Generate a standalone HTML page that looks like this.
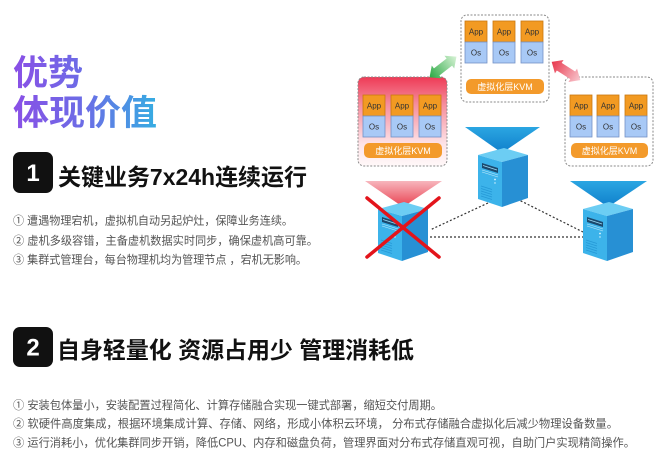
<!DOCTYPE html>
<html><head><meta charset="utf-8"><style>
html,body{margin:0;padding:0;background:#fff;}
svg{display:block;}
</style></head><body>
<svg width="662" height="466" viewBox="0 0 662 466" xmlns="http://www.w3.org/2000/svg" font-family="'Liberation Sans','Noto Sans CJK SC',sans-serif">
<defs>
 <linearGradient id="tg" gradientUnits="userSpaceOnUse" x1="13" y1="0" x2="160" y2="0">
  <stop offset="0" stop-color="#8a4fe6"/><stop offset="0.5" stop-color="#6a6ee6"/><stop offset="1" stop-color="#33b0e2"/>
 </linearGradient>
 <linearGradient id="redbox" x1="0" y1="0" x2="0" y2="1">
  <stop offset="0" stop-color="#ee3a56"/><stop offset="0.3" stop-color="#f58c9c"/><stop offset="0.75" stop-color="#fde3e7"/><stop offset="1" stop-color="#fff8f9"/>
 </linearGradient>
 <linearGradient id="blueTri" x1="0" y1="0" x2="0" y2="1">
  <stop offset="0" stop-color="#2ba6e2"/><stop offset="1" stop-color="#0f7fcb"/>
 </linearGradient>
 <linearGradient id="redTri" x1="0" y1="0" x2="0" y2="1">
  <stop offset="0" stop-color="#f7b6bd"/><stop offset="1" stop-color="#e9404f"/>
 </linearGradient>
 <linearGradient id="greenArr" x1="0" y1="0" x2="1" y2="0">
  <stop offset="0" stop-color="#2aa843"/><stop offset="1" stop-color="#d8f3d6"/>
 </linearGradient>
 <linearGradient id="redArr" x1="0" y1="0" x2="1" y2="0">
  <stop offset="0" stop-color="#e8364c"/><stop offset="1" stop-color="#f8c8cf"/>
 </linearGradient>
</defs>

<rect width="662" height="466" fill="#fff"/>

<!-- Title -->
<text x="13" y="85" font-size="35" font-weight="bold" fill="url(#tg)" textLength="70" lengthAdjust="spacingAndGlyphs">优势</text>
<text x="13" y="125" font-size="35" font-weight="bold" fill="url(#tg)" textLength="144" lengthAdjust="spacingAndGlyphs">体现价值</text>

<!-- Section 1 -->
<rect x="13" y="152" width="40" height="41" rx="7" fill="#111"/>
<text x="33" y="181" font-size="24" font-weight="bold" fill="#fff" text-anchor="middle">1</text>
<text x="58" y="185" font-size="23" font-weight="bold" fill="#111" textLength="249" lengthAdjust="spacingAndGlyphs">关键业务7x24h连续运行</text>

<g font-size="11.5" fill="#555">
 <text x="13" y="224.5" textLength="280" lengthAdjust="spacingAndGlyphs">① 遭遇物理宕机，虚拟机自动另起炉灶，保障业务连续。</text>
 <text x="13" y="244.5" textLength="305" lengthAdjust="spacingAndGlyphs">② 虚机多级容错，主备虚机数据实时同步，确保虚机高可靠。</text>
 <text x="13" y="263.5" textLength="294" lengthAdjust="spacingAndGlyphs">③ 集群式管理台，每台物理机均为管理节点 ，宕机无影响。</text>
</g>

<!-- Section 2 -->
<rect x="13" y="327" width="40" height="40" rx="7" fill="#111"/>
<text x="33" y="355.5" font-size="24" font-weight="bold" fill="#fff" text-anchor="middle">2</text>
<text x="57" y="358" font-size="23" font-weight="bold" fill="#111" textLength="357" lengthAdjust="spacingAndGlyphs">自身轻量化 资源占用少 管理消耗低</text>

<g font-size="11.5" fill="#555">
 <text x="13" y="409" textLength="429" lengthAdjust="spacingAndGlyphs">① 安装包体量小，安装配置过程简化、计算存储融合实现一键式部署，缩短交付周期。</text>
 <text x="13" y="427.5" textLength="605" lengthAdjust="spacingAndGlyphs">② 软硬件高度集成，根据环境集成计算、存储、网络，形成小体积云环境， 分布式存储融合虚拟化后减少物理设备数量。</text>
 <text x="13" y="446.5" textLength="622" lengthAdjust="spacingAndGlyphs">③ 运行消耗小，优化集群同步开销，降低CPU、内存和磁盘负荷，管理界面对分布式存储直观可视，自助门户实现精简操作。</text>
</g>

<!-- VM boxes -->
<rect x="461" y="15" width="88" height="87" rx="6" fill="#fff" stroke="#8a8a8a" stroke-width="1" stroke-dasharray="2,1.5"/>
<rect x="358" y="77" width="89" height="89" rx="6" fill="url(#redbox)" stroke="#8a8a8a" stroke-width="1" stroke-dasharray="2,1.5"/>
<rect x="565" y="77" width="88" height="89" rx="6" fill="#fff" stroke="#8a8a8a" stroke-width="1" stroke-dasharray="2,1.5"/>

<g font-size="8" fill="#333" text-anchor="middle">
 <g>
  <rect x="465" y="21" width="22" height="21" fill="#f29a22" stroke="#c9780f" stroke-width="0.8"/>
  <rect x="465" y="42" width="22" height="21" fill="#a8c9f6" stroke="#7492c6" stroke-width="0.8"/>
  <text x="476" y="34.5">App</text><text x="476" y="55.5">Os</text>
  <rect x="493" y="21" width="22" height="21" fill="#f29a22" stroke="#c9780f" stroke-width="0.8"/>
  <rect x="493" y="42" width="22" height="21" fill="#a8c9f6" stroke="#7492c6" stroke-width="0.8"/>
  <text x="504" y="34.5">App</text><text x="504" y="55.5">Os</text>
  <rect x="521" y="21" width="22" height="21" fill="#f29a22" stroke="#c9780f" stroke-width="0.8"/>
  <rect x="521" y="42" width="22" height="21" fill="#a8c9f6" stroke="#7492c6" stroke-width="0.8"/>
  <text x="532" y="34.5">App</text><text x="532" y="55.5">Os</text>
 </g>
 <g>
  <rect x="363" y="95" width="22" height="21" fill="#f29a22" stroke="#c9780f" stroke-width="0.8"/>
  <rect x="363" y="116" width="22" height="21" fill="#a8c9f6" stroke="#7492c6" stroke-width="0.8"/>
  <text x="374" y="108.5">App</text><text x="374" y="129.5">Os</text>
  <rect x="391" y="95" width="22" height="21" fill="#f29a22" stroke="#c9780f" stroke-width="0.8"/>
  <rect x="391" y="116" width="22" height="21" fill="#a8c9f6" stroke="#7492c6" stroke-width="0.8"/>
  <text x="402" y="108.5">App</text><text x="402" y="129.5">Os</text>
  <rect x="419" y="95" width="22" height="21" fill="#f29a22" stroke="#c9780f" stroke-width="0.8"/>
  <rect x="419" y="116" width="22" height="21" fill="#a8c9f6" stroke="#7492c6" stroke-width="0.8"/>
  <text x="430" y="108.5">App</text><text x="430" y="129.5">Os</text>
 </g>
 <g>
  <rect x="570" y="95" width="22" height="21" fill="#f29a22" stroke="#c9780f" stroke-width="0.8"/>
  <rect x="570" y="116" width="22" height="21" fill="#a8c9f6" stroke="#7492c6" stroke-width="0.8"/>
  <text x="581" y="108.5">App</text><text x="581" y="129.5">Os</text>
  <rect x="597" y="95" width="22" height="21" fill="#f29a22" stroke="#c9780f" stroke-width="0.8"/>
  <rect x="597" y="116" width="22" height="21" fill="#a8c9f6" stroke="#7492c6" stroke-width="0.8"/>
  <text x="608" y="108.5">App</text><text x="608" y="129.5">Os</text>
  <rect x="625" y="95" width="22" height="21" fill="#f29a22" stroke="#c9780f" stroke-width="0.8"/>
  <rect x="625" y="116" width="22" height="21" fill="#a8c9f6" stroke="#7492c6" stroke-width="0.8"/>
  <text x="636" y="108.5">App</text><text x="636" y="129.5">Os</text>
 </g>
</g>

<g font-size="9" fill="#fff" text-anchor="middle">
 <rect x="466" y="79" width="78" height="15" rx="5" fill="#f39a2b"/>
 <text x="505" y="89.8">虚拟化层KVM</text>
 <rect x="364" y="143" width="78" height="15" rx="5" fill="#f39a2b"/>
 <text x="403" y="153.8">虚拟化层KVM</text>
 <rect x="571" y="143" width="77" height="15" rx="5" fill="#f39a2b"/>
 <text x="609.5" y="153.8">虚拟化层KVM</text>
</g>

<!-- double arrows -->
<g transform="translate(443,67) rotate(-37.6)">
 <polygon points="-17,0 -8,-8 -8,-4.5 8,-4.5 8,-8 17,0 8,8 8,4.5 -8,4.5 -8,8" fill="url(#greenArr)"/>
</g>
<g transform="translate(566,71) rotate(32.7)">
 <polygon points="-17,0 -8,-8 -8,-4.5 8,-4.5 8,-8 17,0 8,8 8,4.5 -8,4.5 -8,8" fill="url(#redArr)"/>
</g>

<!-- dotted connectors -->
<g stroke="#333" stroke-width="1.2" stroke-dasharray="2,2" fill="none">
 <line x1="488" y1="203" x2="430" y2="230"/>
 <line x1="517" y1="199" x2="583" y2="232"/>
 <line x1="430" y1="237" x2="583" y2="237"/>
</g>

<!-- triangles -->
<polygon points="465,127 540,127 502,153" fill="url(#blueTri)"/>
<polygon points="365,181 442,181 403,207" fill="url(#redTri)"/>
<polygon points="570,181 647,181 608,207" fill="url(#blueTri)"/>

<!-- servers -->
<g>
 <polygon points="478,155 504,148 528,155 502,162" fill="#6ccdf3"/>
 <polygon points="478,155 502,162 502,207 478,199" fill="#3cb3ea"/>
 <polygon points="502,162 528,155 528,198 502,207" fill="#2790d4"/>
 <polygon points="482,163 498,168 498,173 482,168" fill="#1b4a6e"/>
 <line x1="483" y1="165.5" x2="497" y2="170" stroke="#9fdcf5" stroke-width="0.8"/>
 <line x1="482" y1="170" x2="498" y2="175" stroke="#bfe9fa" stroke-width="0.6"/>
 <line x1="482" y1="172" x2="498" y2="177" stroke="#bfe9fa" stroke-width="0.6"/>
 <circle cx="495" cy="179.5" r="0.9" fill="#e0f7ff"/>
 <circle cx="495" cy="183" r="0.7" fill="#e0f7ff"/>
 <g stroke="#2598d6" stroke-width="0.7">
  <line x1="481" y1="186" x2="492" y2="189.5"/>
  <line x1="481" y1="188.5" x2="492" y2="192"/>
  <line x1="481" y1="191" x2="492" y2="194.5"/>
  <line x1="481" y1="193.5" x2="492" y2="197"/>
  <line x1="481" y1="196" x2="492" y2="199.5"/>
 </g>
</g>
<g transform="translate(-100,54)">
 <polygon points="478,155 504,148 528,155 502,162" fill="#6ccdf3"/>
 <polygon points="478,155 502,162 502,207 478,199" fill="#3cb3ea"/>
 <polygon points="502,162 528,155 528,198 502,207" fill="#2790d4"/>
 <polygon points="482,163 498,168 498,173 482,168" fill="#1b4a6e"/>
 <line x1="483" y1="165.5" x2="497" y2="170" stroke="#9fdcf5" stroke-width="0.8"/>
 <line x1="482" y1="170" x2="498" y2="175" stroke="#bfe9fa" stroke-width="0.6"/>
 <line x1="482" y1="172" x2="498" y2="177" stroke="#bfe9fa" stroke-width="0.6"/>
 <circle cx="495" cy="179.5" r="0.9" fill="#e0f7ff"/>
 <circle cx="495" cy="183" r="0.7" fill="#e0f7ff"/>
 <g stroke="#2598d6" stroke-width="0.7">
  <line x1="481" y1="186" x2="492" y2="189.5"/>
  <line x1="481" y1="188.5" x2="492" y2="192"/>
  <line x1="481" y1="191" x2="492" y2="194.5"/>
  <line x1="481" y1="193.5" x2="492" y2="197"/>
  <line x1="481" y1="196" x2="492" y2="199.5"/>
 </g>
</g>
<g transform="translate(105,54)">
 <polygon points="478,155 504,148 528,155 502,162" fill="#6ccdf3"/>
 <polygon points="478,155 502,162 502,207 478,199" fill="#3cb3ea"/>
 <polygon points="502,162 528,155 528,198 502,207" fill="#2790d4"/>
 <polygon points="482,163 498,168 498,173 482,168" fill="#1b4a6e"/>
 <line x1="483" y1="165.5" x2="497" y2="170" stroke="#9fdcf5" stroke-width="0.8"/>
 <line x1="482" y1="170" x2="498" y2="175" stroke="#bfe9fa" stroke-width="0.6"/>
 <line x1="482" y1="172" x2="498" y2="177" stroke="#bfe9fa" stroke-width="0.6"/>
 <circle cx="495" cy="179.5" r="0.9" fill="#e0f7ff"/>
 <circle cx="495" cy="183" r="0.7" fill="#e0f7ff"/>
 <g stroke="#2598d6" stroke-width="0.7">
  <line x1="481" y1="186" x2="492" y2="189.5"/>
  <line x1="481" y1="188.5" x2="492" y2="192"/>
  <line x1="481" y1="191" x2="492" y2="194.5"/>
  <line x1="481" y1="193.5" x2="492" y2="197"/>
  <line x1="481" y1="196" x2="492" y2="199.5"/>
 </g>
</g>

<!-- red X -->
<g stroke="#e3141b" stroke-width="3.5" stroke-linecap="round">
 <line x1="367" y1="198" x2="439" y2="257"/>
 <line x1="367" y1="257" x2="439" y2="198"/>
</g>
</svg>
</body></html>
